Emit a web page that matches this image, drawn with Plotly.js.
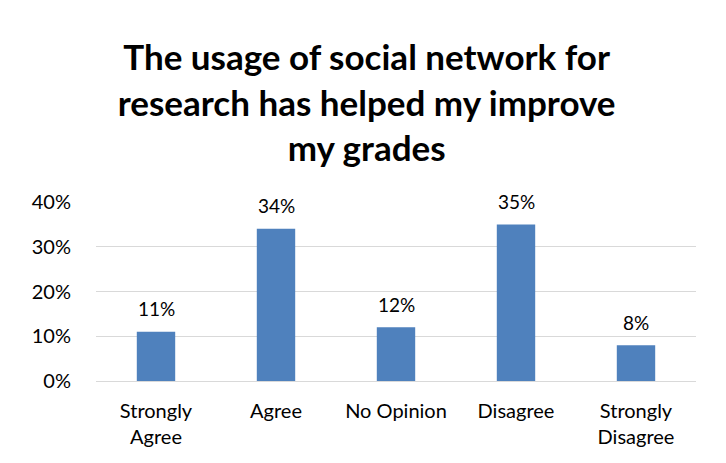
<!DOCTYPE html>
<html><head><meta charset="utf-8">
<script src="https://cdn.plot.ly/plotly-3.0.1.min.js"></script>
<style>body{margin:0;background:#fff}#c{width:726px;height:463px}</style>
</head><body><div id="c"></div>
<script>
const categories = ["Strongly<br>Agree", "Agree", "No Opinion", "Disagree", "Strongly<br>Disagree"];
const values = [0.11, 0.34, 0.12, 0.35, 0.08];
const labels = ["11%", "34%", "12%", "35%", "8%"];
const yTicks = [0, 0.1, 0.2, 0.3, 0.4];
const yTickText = ["0%", "10%", "20%", "30%", "40%"];
const titleText = "The usage of social network for<br>research has helped my improve<br>my grades";

const font = "Lato, 'Open Sans', sans-serif";
const annotations = categories.map((c, i) => ({
  x: c, y: values[i], text: labels[i], showarrow: false,
  xanchor: "center", yanchor: "middle", yshift: 23,
  font: {family: font, size: 19, color: "#000"}
}));
Plotly.newPlot("c", [{
  type: "bar", x: categories, y: values,
  marker: {color: "#4F81BD"}, width: 0.32, hoverinfo: "none"
}], {
  width: 726, height: 463,
  margin: {l: 96, r: 30, t: 202, b: 82},
  paper_bgcolor: "#fff", plot_bgcolor: "#fff",
  title: {text: titleText, x: 0.505, xanchor: "center", y: 0.848, yanchor: "top",
    font: {family: font, size: 35, color: "#000", weight: "bold"}},
  xaxis: {tickfont: {family: font, size: 20, color: "#000"}, showgrid: false,
    showline: true, linecolor: "#D9D9D9", ticks: "outside", ticklen: 12, tickcolor: "rgba(0,0,0,0)"},
  yaxis: {range: [0, 0.4], tickvals: yTicks, ticktext: yTickText,
    tickfont: {family: font, size: 20, color: "#000"}, gridcolor: "#D9D9D9",
    zeroline: false, showline: false, ticks: "outside", ticklen: 20, tickcolor: "rgba(0,0,0,0)"},
  annotations: annotations,
  showlegend: false
}, {staticPlot: true});
</script></body></html>
